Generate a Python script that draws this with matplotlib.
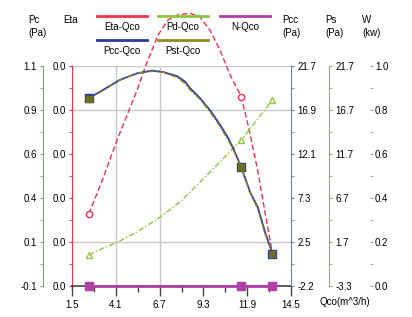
"""Multi-axis fan performance chart: Eta, Pc, Pcc, Ps, W against Qco."""

import matplotlib

matplotlib.use("Agg")
import matplotlib.pyplot as plt
import numpy as np
from matplotlib.lines import Line2D

plt.rcParams["font.family"] = ["Liberation Sans", "DejaVu Sans"]
plt.rcParams["font.size"] = 7

# ---- data ----
x_ticklabels = ["1.5", "4.1", "6.7", "9.3", "11.9", "14.5"]
pc_ticklabels = ["-0.1", "0.1", "0.4", "0.6", "0.9", "1.1"]
eta_ticklabels = ["0.0", "0.0", "0.0", "0.0", "0.0", "0.0"]
pcc_ticklabels = ["-2.2", "2.5", "7.3", "12.1", "16.9", "21.7"]
ps_ticklabels = ["-3.3", "1.7", "6.7", "11.7", "16.7", "21.7"]
w_ticklabels = ["0.0", "0.2", "0.4", "0.6", "0.8", "1.0"]

q_eta = [2.5, 3.34, 4.17, 5.36, 5.89, 6.6, 7.2, 7.79, 8.5, 9.1, 9.69, 10.28,
         10.88, 11.55, 12.06, 12.54, 12.95, 13.4]
eta = [0.0131, 0.0196, 0.0265, 0.0356, 0.0402, 0.0456, 0.0484, 0.0493, 0.0496,
       0.0489, 0.0465, 0.0429, 0.0384, 0.0344, 0.0278, 0.0207, 0.0135, 0.0058]
eta_marks = [0, 13, 17]

q_fan = [2.5, 3.34, 4.35, 5.36, 6.25, 6.9, 7.73, 8.21, 8.5, 9.1, 9.69, 10.29,
         10.76, 11.06, 11.55, 12.07, 12.54, 12.95, 13.4]
pcc = [18.2, 19.1, 20.2, 20.9, 21.2, 21.05, 20.6, 20.0, 19.3, 18.2, 16.9, 15.3,
       13.9, 12.8, 10.7, 8.0, 6.3, 3.7, 1.3]
pst = [18.0, 18.9, 20.1, 20.9, 21.1, 21.0, 20.4, 19.7, 19.0, 17.9, 16.5, 14.8,
       13.3, 12.2, 10.2, 7.3, 5.4, 2.7, 0.3]
fan_marks = [0, 14, 18]

q_pd = [2.5, 3.34, 4.11, 5.36, 6.66, 7.91, 9.1, 10.28, 11.55, 13.4]
pd = [0.069, 0.107, 0.135, 0.195, 0.271, 0.358, 0.467, 0.576, 0.696, 0.915]
pd_marks = [0, 8, 9]

q_n = [2.5, 11.55, 13.4]
n_kw = [0.0, 0.0, 0.0]

# ---- colours ----
RED = "#f2304f"
BLUE = "#2b3a9e"
BLUE_AX = "#5a80c8"
GREEN = "#8dc63f"
GREEN_AX = "#6cb33f"
OLIVE = "#8c8c1e"
OLIVE_AX = "#a0b040"
MAGENTA = "#b03fa8"
GRID = "#c8c8c8"

W, H = 412, 317


def fx(x):
    return x / W


def fy(y):
    return 1 - y / H


def setup_y(axis, lo, hi, labels):
    ticks = np.linspace(lo, hi, len(labels))
    axis.set_ylim(lo, hi)
    axis.set_yticks(ticks)
    axis.set_yticklabels(labels)
    axis.set_yticks((ticks[:-1] + ticks[1:]) / 2, minor=True)
    return ticks


fig = plt.figure(figsize=(W / 100, H / 100), dpi=100)
ax = fig.add_axes([fx(72), fy(286), (291 - 72) / W, (286 - 66) / H])

# x axis
xt = np.linspace(1.5, 14.5, len(x_ticklabels))
ax.set_xlim(1.5, 14.5)
ax.set_xticks(xt)
ax.set_xticklabels(x_ticklabels)
ax.set_xticks((xt[:-1] + xt[1:]) / 2, minor=True)
ax.tick_params(axis="x", which="major", length=7, width=1, color="#444444", pad=3)
ax.tick_params(axis="x", which="minor", length=4, width=1, color="#444444")

# Eta axis (main)
eta_t = setup_y(ax, 0.0, 0.04, eta_ticklabels)
ax.tick_params(axis="y", which="both", length=2.5, color=RED, pad=2)
for s in ["top", "right"]:
    ax.spines[s].set_visible(False)
ax.spines["left"].set_color(RED)
ax.spines["bottom"].set_color("#444444")
ax.spines["bottom"].set_linewidth(1.2)

# selected gridlines
for i in (1, 4, 5):
    ax.axhline(eta_t[i], color=GRID, lw=1, zorder=0)
for i in (1, 2):
    ax.axvline(xt[i], color=GRID, lw=1, zorder=0)

# Pc axis (left, outer)
ax_pc = ax.twinx()
setup_y(ax_pc, -0.1, 1.1, pc_ticklabels)
ax_pc.yaxis.set_ticks_position("left")
ax_pc.yaxis.set_label_position("left")
ax_pc.spines["left"].set_position(("axes", (43 - 72) / 219))
ax_pc.spines["left"].set_visible(True)
ax_pc.spines["left"].set_color(GREEN_AX)
for s in ["top", "right", "bottom"]:
    ax_pc.spines[s].set_visible(False)
ax_pc.tick_params(axis="y", which="both", length=2.5, color=GREEN_AX, pad=2)

# Pcc axis (right)
ax_pcc = ax.twinx()
setup_y(ax_pcc, -2.2, 21.7, pcc_ticklabels)
ax_pcc.spines["right"].set_color(BLUE_AX)
for s in ["top", "left", "bottom"]:
    ax_pcc.spines[s].set_visible(False)
ax_pcc.tick_params(axis="y", which="both", length=2.5, color=BLUE_AX, pad=2)

# Ps axis
ax_ps = ax.twinx()
setup_y(ax_ps, -3.3, 21.7, ps_ticklabels)
ax_ps.spines["right"].set_position(("axes", (329 - 72) / 219))
ax_ps.spines["right"].set_color(OLIVE_AX)
for s in ["top", "left", "bottom"]:
    ax_ps.spines[s].set_visible(False)
ax_ps.tick_params(axis="y", which="both", length=2.5, color=OLIVE_AX, pad=2)

# W axis
ax_w = ax.twinx()
setup_y(ax_w, 0.0, 1.0, w_ticklabels)
ax_w.spines["right"].set_position(("axes", (370 - 72) / 219))
ax_w.spines["right"].set_visible(False)
for s in ["top", "left", "bottom"]:
    ax_w.spines[s].set_visible(False)
ax_w.tick_params(axis="y", which="both", length=2.5, color="#999999", pad=1)

# ---- series ----
ax.plot(q_eta, eta, color=RED, lw=1, ls=(0, (4, 2)), marker="o", ms=4.5,
        mfc="white", mec=RED, markevery=eta_marks, clip_on=False, zorder=3)
ax_pc.plot(q_pd, pd, color=GREEN, lw=1, ls=(0, (4, 1.5, 1, 1.5)), marker="^",
           ms=4.5, mfc="white", mec=GREEN, markevery=pd_marks, clip_on=False)
ax_pcc.plot(q_fan, pcc, color=BLUE, lw=1.3, marker="s", ms=5.5, mfc=BLUE,
            mec=BLUE, markevery=fan_marks, clip_on=False)
ax_ps.plot(q_fan, pst, color=OLIVE, lw=1, ls=(0, (4, 1.5, 1, 1.5)), marker="s",
           ms=4.5, mfc="#6e6e23", mec="#6e6e23", markevery=fan_marks, clip_on=False)
ax_w.plot(q_n, n_kw, color=MAGENTA, lw=2, marker="s", ms=5.5, mfc=MAGENTA,
          mec=MAGENTA, clip_on=False)

# ---- axis titles ----
for x, top, bottom in [(28, "Pc", "(Pa)"), (63, "Eta", None), (282, "Pcc", "(Pa)"),
                       (325, "Ps", "(Pa)"), (362, "W", "(kw)")]:
    fig.text(fx(x), fy(20), top, ha="left", va="center")
    if bottom:
        fig.text(fx(x), fy(33), bottom, ha="left", va="center")

fig.text(fx(319), fy(302), "Qco(m^3/h)", ha="left", va="center")

# ---- legend ----
legend_items = [
    ("Eta-Qco", RED, 97, 16),
    ("Pcc-Qco", BLUE, 97, 40),
    ("Pd-Qco", GREEN, 158, 16),
    ("Pst-Qco", OLIVE, 158, 40),
    ("N-Qco", MAGENTA, 220, 16),
]
for name, color, x0, y0 in legend_items:
    fig.add_artist(Line2D([fx(x0), fx(x0 + 50)], [fy(y0), fy(y0)], color=color,
                          lw=2, transform=fig.transFigure))
    fig.text(fx(x0 + 25), fy(y0 + 11), name, ha="center", va="center")

fig.savefig("out.png", dpi=100)
plt.close(fig)
